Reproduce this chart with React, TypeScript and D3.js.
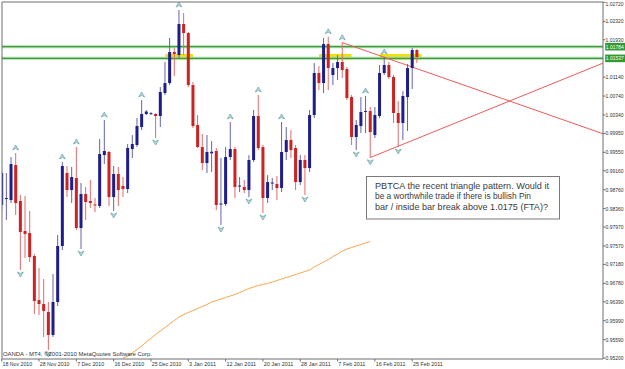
import React from "react";
import * as d3 from "d3";

// Daily bars, index 0 = 18 Nov 2010
const opens = [
  0.98436, 0.98563, 0.98542, 0.99282, 0.98521, 0.97887, 0.97844, 0.97358, 0.96428, 0.96343,
  0.96174, 0.95689, 0.96386, 0.97570, 0.99113, 0.98753, 0.99007, 0.97950, 0.98669, 0.98521,
  0.98447, 0.98415, 0.99493, 0.99557, 0.98605, 0.99092, 0.98838, 0.98774, 0.99620, 0.99705,
  1.00085, 1.00360, 1.00374, 1.00360, 1.00318, 1.00804, 1.01015, 1.01671, 1.01607, 1.02263,
  1.02072, 1.00973, 1.00128, 0.99662, 0.99324, 0.99529, 0.99578, 0.98447, 0.98457, 0.99451,
  0.99620, 0.98838, 0.98817, 0.98753, 0.99388, 1.00318, 0.99662, 0.98584, 0.98901, 0.98880,
  0.98796, 0.99557, 0.99810, 0.99641, 0.98922, 0.99388, 0.99218, 1.00339, 1.01227, 1.01015,
  1.01840, 1.01185, 1.01332, 1.01459, 1.01311, 1.00719, 0.99874, 1.00106, 1.00402, 1.00423,
  0.99916, 1.00318, 1.01227, 1.01396, 1.01142, 1.00381, 1.00170, 1.00719, 1.01332, 1.01713,
];
const highs = [
  0.99176, 0.99113, 0.99451, 0.99536, 0.98647, 0.98626, 0.98310, 0.97400, 0.97105, 0.96872,
  0.96386, 0.96978, 0.97802, 0.99345, 0.99261, 0.99240, 0.99662, 0.98901, 0.98817, 0.98965,
  0.98584, 0.99832, 1.00233, 0.99578, 0.99261, 0.99240, 0.99028, 0.99726, 0.99916, 1.00276,
  1.00656, 1.00444, 1.00402, 1.00381, 1.00931, 1.01459, 1.01967, 1.01755, 1.02559, 1.02495,
  1.02094, 1.01037, 1.00339, 0.99937, 0.99916, 0.99789, 0.99641, 0.99430, 0.99662, 1.00191,
  0.99662, 0.99028, 0.98965, 0.99493, 1.00445, 1.00762, 0.99705, 0.99070, 0.99007, 0.99049,
  1.00191, 1.00085, 1.00022, 0.99705, 0.99493, 0.99493, 1.00445, 1.01438, 1.01375, 1.01967,
  1.01994, 1.01438, 1.01607, 1.01867, 1.01354, 1.00762, 1.00233, 1.00719, 1.00741, 1.00508,
  1.00508, 1.01396, 1.01565, 1.01459, 1.01185, 1.00635, 1.00846, 1.01417, 1.01755, 1.01734,
];
const lows = [
  0.98288, 0.98119, 0.98479, 0.98225, 0.97062, 0.97316, 0.97231, 0.96132, 0.96111, 0.95646,
  0.95371, 0.95646, 0.96301, 0.97485, 0.98605, 0.98479, 0.97908, 0.97506, 0.98119, 0.98373,
  0.98288, 0.98373, 0.99303, 0.98415, 0.98310, 0.98415, 0.98605, 0.98690, 0.99430, 0.99662,
  1.00022, 1.00339, 1.00349, 0.99853, 1.00085, 1.00762, 1.00973, 1.01163, 1.01544, 1.01607,
  1.00931, 1.00064, 0.99641, 0.99176, 0.99113, 0.99134, 0.98331, 0.98013, 0.98415, 0.99388,
  0.98584, 0.98711, 0.98690, 0.98605, 0.99345, 0.99599, 0.98267, 0.98479, 0.98753, 0.98542,
  0.98711, 0.99388, 0.99430, 0.98753, 0.98859, 0.98647, 0.99134, 1.00276, 1.00867, 1.00804,
  1.00867, 1.00973, 1.01079, 1.01121, 1.00656, 0.99705, 0.99599, 0.99958, 0.99958, 0.99436,
  0.99853, 1.00276, 1.01185, 1.01100, 1.00170, 0.99662, 0.99810, 1.00001, 1.00889, 1.01438,
];
const closes = [
  0.99113, 0.98584, 0.99303, 0.98479, 0.97866, 0.97823, 0.97337, 0.96407, 0.96343, 0.96196,
  0.95689, 0.96386, 0.97570, 0.99261, 0.98753, 0.99028, 0.97950, 0.98669, 0.98500, 0.98479,
  0.98426, 0.99514, 0.99578, 0.98605, 0.99092, 0.98753, 0.98774, 0.99641, 0.99726, 1.00106,
  1.00360, 1.00413, 1.00376, 1.00318, 1.00825, 1.01015, 1.01671, 1.01628, 1.02263, 1.02072,
  1.00973, 1.00106, 0.99662, 0.99324, 0.99557, 0.99563, 0.98436, 0.98468, 0.99451, 0.99620,
  0.98817, 0.98848, 0.98753, 0.99388, 1.00318, 0.99641, 0.98584, 0.98922, 0.98911, 0.98796,
  0.99557, 0.99810, 0.99599, 0.98922, 0.99388, 0.99218, 1.00339, 1.01227, 1.01015, 1.01840,
  1.01332, 1.01332, 1.01459, 1.01290, 1.00698, 0.99874, 1.00128, 1.00402, 1.00423, 0.99980,
  1.00339, 1.01227, 1.01396, 1.01142, 1.00381, 1.00170, 1.00741, 1.01332, 1.01713, 1.01565,
];

// Moving average (orange), starting at bar 26
const maStart = 26;
const maValues = [
  0.95200, 0.95244, 0.95308, 0.95382, 0.95456, 0.95540, 0.95614, 0.95699, 0.95773, 0.95847,
  0.95921, 0.95995, 0.96069, 0.96121, 0.96164, 0.96206, 0.96248, 0.96291, 0.96333, 0.96386,
  0.96417, 0.96449, 0.96481, 0.96513, 0.96544, 0.96587, 0.96629, 0.96671, 0.96703, 0.96735,
  0.96756, 0.96777, 0.96809, 0.96840, 0.96872, 0.96904, 0.96935, 0.96967, 0.96999, 0.97031,
  0.97062, 0.97126, 0.97179, 0.97231, 0.97284, 0.97348, 0.97400, 0.97464, 0.97506, 0.97538,
  0.97570, 0.97601, 0.97633, 0.97665,
];

const priceTicks = [
  1.0272, 1.0232, 1.0193, 1.0114, 1.0074, 1.0034, 0.9995, 0.9955, 0.9916, 0.9876,
  0.9836, 0.9797, 0.9757, 0.9718, 0.9678, 0.9639, 0.9599, 0.9559, 0.952,
];
const priceTickLabels = [
  "1.02720", "1.02320", "1.01930", "1.01140", "1.00740", "1.00340", "0.99950", "0.99550",
  "0.99160", "0.98760", "0.98360", "0.97970", "0.97570", "0.97180", "0.96780", "0.96390",
  "0.95990", "0.95590", "0.95200",
];
const dateLabels = [
  "18 Nov 2010", "28 Nov 2010", "7 Dec 2010", "16 Dec 2010", "25 Dec 2010", "3 Jan 2011",
  "12 Jan 2011", "20 Jan 2011", "28 Jan 2011", "7 Feb 2011", "16 Feb 2011", "25 Feb 2011",
];
const dateEvery = 8;

const levelValues = [1.01784, 1.01537];
const levelLabels = ["1.01784", "1.01537"];

const upFractals = [3, 13, 16, 22, 30, 38, 49, 55, 60, 70, 73, 78, 82];
const downFractals = [4, 10, 17, 24, 33, 47, 53, 56, 65, 76, 79, 85];

// trend lines: [bar, price] anchor pairs
const trendStart = [[73, 1.0187], [79, 0.9944]];
const trendEnd = [[129, 0.9994], [129, 1.0144]];

// yellow zones: bar ranges and price range
const zoneFrom = [35.1, 68.05, 81.06];
const zoneTo = [41.0, 75.0, 90.0];
const zonePrice = [1.0150, 1.0163];

const noteLines = [
  "PBTCA the recent triangle pattern. Would it",
  "be a worthwhile trade if there is bullish Pin",
  "bar / inside bar break above 1.0175 (FTA)?",
];
const copyright = "OANDA - MT4, \u00a92001-2010 MetaQuotes Software Corp.";

const L = 2, R = 603, T = 2, B = 359;
const FONT = "'Liberation Sans', Arial, sans-serif";

export default function App() {
  const x = d3.scaleLinear().domain([0, 128.9]).range([1.7, R]);
  const y = d3.scaleLinear().domain([0.952, 1.0272]).range([358.1, 2.4]);

  const maLine = d3
    .line<number>()
    .x((_, i) => x(maStart + i))
    .y((v) => y(v))(maValues) || "";

  const upPath = (cx: number, cy: number) =>
    `M${cx - 3},${cy + 2.5}L${cx},${cy - 2.5}L${cx + 3},${cy + 2.5}L${cx},${cy + 1}Z`;
  const downPath = (cx: number, cy: number) =>
    `M${cx - 3},${cy - 2.5}L${cx},${cy + 2.5}L${cx + 3},${cy - 2.5}L${cx},${cy - 1}Z`;

  return (
    <svg
      width={625}
      height={369}
      style={{ position: "fixed", left: 0, top: 0, display: "block", background: "#fff" }}
    >
      <defs>
        <clipPath id="plot">
          <rect x={L} y={T} width={R - L} height={B - T} />
        </clipPath>
      </defs>
      <rect x={0} y={0} width={625} height={369} fill="#fff" />
      <g clipPath="url(#plot)">
        {zoneFrom.map((f, i) => (
          <rect
            key={"z" + i}
            x={x(f)}
            width={x(zoneTo[i]) - x(f)}
            y={y(zonePrice[1])}
            height={y(zonePrice[0]) - y(zonePrice[1])}
            fill="#f4de10"
          />
        ))}
        {levelValues.map((v, i) => (
          <g key={"lv" + i}>
            <line x1={L} x2={R} y1={y(v)} y2={y(v)} stroke="#a6dca6" strokeWidth={3} />
            <line x1={L} x2={R} y1={y(v)} y2={y(v)} stroke="#2f8f2f" strokeWidth={1} />
          </g>
        ))}
        <path d={maLine} fill="none" stroke="#f7a650" strokeWidth={1} />
        {trendStart.map((s, i) => (
          <line
            key={"t" + i}
            x1={x(s[0])}
            y1={y(s[1])}
            x2={x(trendEnd[i][0])}
            y2={y(trendEnd[i][1])}
            stroke="#f05a5a"
            strokeWidth={1}
          />
        ))}
        {opens.map((o, i) => {
          const c = closes[i];
          const up = c >= o;
          const cx = x(i);
          const yTop = y(Math.max(o, c));
          const yBot = y(Math.min(o, c));
          return (
            <g key={"c" + i}>
              <line
                x1={cx}
                x2={cx}
                y1={y(highs[i])}
                y2={y(lows[i])}
                stroke={up ? "#6464b0" : "#e26a6a"}
                strokeWidth={1}
              />
              <rect
                x={cx - 1.5}
                width={3}
                y={yTop}
                height={Math.max(1, yBot - yTop)}
                fill={up ? "#1e1e8a" : "#cc2222"}
              />
            </g>
          );
        })}
        {upFractals.map((i) => (
          <path
            key={"fu" + i}
            d={upPath(x(i), y(highs[i]) - 5.5)}
            fill="#b4d8dc"
            stroke="#6aa2aa"
            strokeWidth={0.7}
          />
        ))}
        {downFractals.map((i) => (
          <path
            key={"fd" + i}
            d={downPath(x(i), y(lows[i]) + 4.5)}
            fill="#b4d8dc"
            stroke="#6aa2aa"
            strokeWidth={0.7}
          />
        ))}
      </g>

      {/* frame */}
      <line x1={L} x2={L} y1={T} y2={B} stroke="#6e6e6e" />
      <line x1={L} x2={R} y1={T} y2={T} stroke="#6e6e6e" />
      <line x1={L} x2={R} y1={B} y2={B} stroke="#6e6e6e" />
      <line x1={R} x2={R} y1={T} y2={B} stroke="#6e6e6e" />

      {/* price axis */}
      {priceTicks.map((v, i) => (
        <g key={"pt" + i}>
          <line x1={R} x2={R + 2.5} y1={y(v)} y2={y(v)} stroke="#6e6e6e" />
          <text
            x={605.6}
            y={Math.max(y(v) + 1.9, 5.6)}
            fontFamily={FONT}
            fontSize={5.2}
            fill="#333"
            textLength={18}
            lengthAdjust="spacingAndGlyphs"
          >
            {priceTickLabels[i]}
          </text>
        </g>
      ))}
      {levelValues.map((v, i) => (
        <g key={"ll" + i}>
          <rect x={605.2} y={y(v) - 3.8} width={19.8} height={7.6} fill="#2f9a2f" />
          <text
            x={605.8}
            y={y(v) + 1.9}
            fontFamily={FONT}
            fontSize={5.2}
            fill="#fff"
            textLength={18}
            lengthAdjust="spacingAndGlyphs"
          >
            {levelLabels[i]}
          </text>
        </g>
      ))}

      {/* time axis */}
      {dateLabels.map((d, k) => {
        const bx = x(k * dateEvery);
        return (
          <g key={"d" + k}>
            <line x1={bx} x2={bx} y1={B} y2={B + 2.5} stroke="#6e6e6e" />
            <text
              x={bx + 0.8}
              y={366.3}
              fontFamily={FONT}
              fontSize={6}
              fill="#333"
              textLength={d.length * 2.7}
              lengthAdjust="spacingAndGlyphs"
            >
              {d}
            </text>
          </g>
        );
      })}

      <text
        x={3}
        y={356}
        fontFamily={FONT}
        fontSize={6}
        fill="#333"
        textLength={149}
        lengthAdjust="spacingAndGlyphs"
      >
        {copyright}
      </text>

      {/* note */}
      <rect x={366.5} y={176.5} width={193} height={42.5} fill="#fff" stroke="#7a7a7a" />
      {noteLines.map((t, i) => (
        <text
          key={"n" + i}
          x={375}
          y={188.8 + i * 10.5}
          fontFamily={FONT}
          fontSize={9.2}
          fill="#3a3a3a"
          textLength={[174, 156, 173][i]}
          lengthAdjust="spacingAndGlyphs"
        >
          {t}
        </text>
      ))}
    </svg>
  );
}
